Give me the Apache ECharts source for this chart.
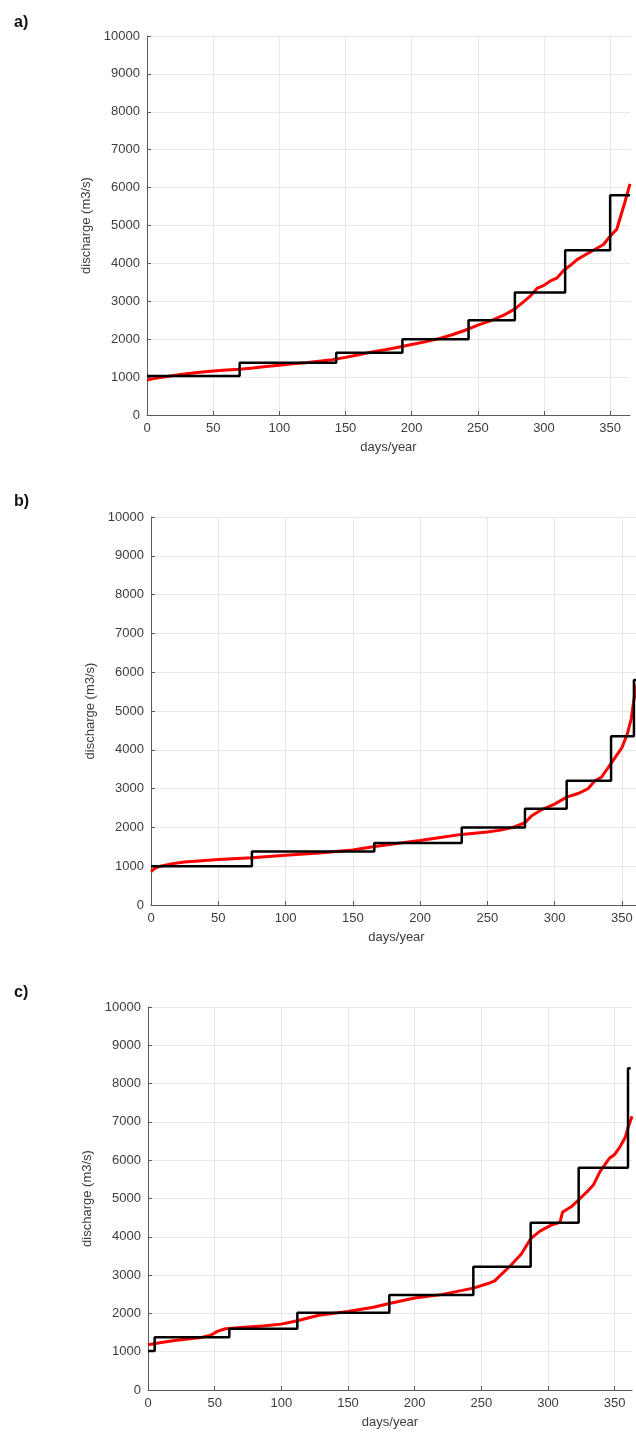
<!DOCTYPE html>
<html>
<head>
<meta charset="utf-8">
<script src="https://cdn.jsdelivr.net/npm/echarts@6/dist/echarts.min.js"></script>
<style>
  html, body { margin: 0; padding: 0; background: #fff; }
  #chart { width: 636px; height: 1436px; }
</style>
</head>
<body>
<div id="chart"></div>
<script>
// Flow duration curves (red) and their stepped approximations (black)
const panelLabels = ['a)', 'b)', 'c)'];
const xName = 'days/year';
const yName = 'discharge (m3/s)';

// Panel a
const curveA = [[0,920],[5,960],[10,990],[20,1040],[30,1090],[40,1130],[50,1160],[60,1190],[70,1210],[80,1240],[90,1280],[100,1310],[110,1350],[120,1380],[130,1420],[140,1460],[150,1520],[160,1590],[170,1660],[180,1720],[190,1790],[200,1860],[210,1930],[220,2010],[230,2110],[240,2230],[250,2370],[260,2490],[270,2640],[278,2800],[285,3000],[290,3150],[295,3350],[300,3420],[305,3540],[310,3620],[315,3820],[320,3950],[325,4100],[330,4200],[335,4300],[340,4400],[345,4500],[350,4720],[355,4900],[358,5250],[361,5600],[363,5850],[365,6100]];
const stepEdgesA = [0,70,143,193,243,278,316,350,365];
const stepLevelsA = [1030,1380,1640,2000,2500,3230,4350,5800];

// Panel b
const curveB = [[0,860],[3,950],[7,1000],[15,1060],[25,1110],[40,1150],[50,1170],[75,1220],[100,1280],[125,1340],[150,1420],[165,1500],[180,1570],[200,1660],[215,1740],[231,1820],[250,1880],[260,1930],[270,2010],[278,2120],[283,2300],[290,2450],[300,2600],[309,2780],[318,2880],[325,3000],[330,3200],[335,3300],[341,3600],[346,3850],[350,4050],[354,4400],[357,4800],[359,5300],[362,5800],[365,6200]];
const stepEdgesB = [0,75,166,231,278,309,342,359,365];
const stepLevelsB = [1000,1380,1600,2000,2480,3200,4350,5800];

// Panel c
const curveC = [[0,1180],[10,1240],[20,1290],[30,1330],[40,1370],[47,1430],[52,1530],[58,1600],[70,1630],[86,1670],[100,1720],[112,1810],[128,1950],[150,2050],[169,2160],[181,2260],[200,2400],[220,2490],[244,2660],[255,2780],[260,2850],[266,3050],[272,3250],[280,3550],[287,3950],[294,4150],[302,4300],[309,4380],[311,4650],[318,4800],[324,5000],[330,5200],[334,5350],[339,5700],[346,6050],[350,6150],[354,6350],[358,6600],[360,6850],[363,7150]];
const stepEdgesC = [0,5,61,112,181,244,287,323,360,362];
const stepLevelsC = [1020,1380,1600,2020,2480,3220,4370,5800,8400];

const xMaxes = [365, 365, 363];
const yMax = 10000;

function stepPoints(edges, levels) {
  const pts = levels.map((v, i) => [edges[i], v]);
  pts.push([edges[edges.length - 1], levels[levels.length - 1]]);
  return pts;
}

const curves = [curveA, curveB, curveC];
const steps = [stepPoints(stepEdgesA, stepLevelsA), stepPoints(stepEdgesB, stepLevelsB), stepPoints(stepEdgesC, stepLevelsC)];

// panel b runs past the right edge of the page
const grids = [
  { left: 147, width: 483, top: 36, height: 379 },
  { left: 151, width: 491, top: 517, height: 388 },
  { left: 148, width: 484, top: 1007, height: 383 }
];
const labelTops = [10, 489, 980];

const font = 'Liberation Sans, Arial, sans-serif';
const axisColor = '#5a5a5a';
const textColor = '#3c3c3c';
const gridColor = '#e8e8e8';

const option = {
  backgroundColor: '#fff',
  animation: false,
  title: panelLabels.map((t, i) => ({
    text: t, left: 9, top: labelTops[i],
    textStyle: { fontFamily: font, fontSize: 16, fontWeight: 'bold', color: '#111' }
  })),
  grid: grids.map(g => Object.assign({ containLabel: false, outerBoundsMode: 'none' }, g)),
  xAxis: grids.map((g, i) => ({
    gridIndex: i, type: 'value', min: 0, max: xMaxes[i], interval: 50,
    name: xName, nameLocation: 'middle', nameGap: 26,
    nameTextStyle: { fontFamily: font, fontSize: 13, color: textColor },
    axisLine: { show: true, lineStyle: { color: axisColor, width: 1 } },
    axisTick: { show: true, inside: true, length: 4, lineStyle: { color: axisColor } },
    axisLabel: { fontFamily: font, fontSize: 13, color: textColor, margin: 7, showMaxLabel: false },
    splitLine: { show: true, showMaxLine: false, lineStyle: { color: gridColor, width: 1 } }
  })),
  yAxis: grids.map((g, i) => ({
    gridIndex: i, type: 'value', min: 0, max: yMax, interval: 1000,
    name: yName, nameLocation: 'middle', nameGap: 50, nameRotate: 90,
    nameTextStyle: { fontFamily: font, fontSize: 13, color: textColor },
    axisLine: { show: true, lineStyle: { color: axisColor, width: 1 } },
    axisTick: { show: true, inside: true, length: 4, lineStyle: { color: axisColor } },
    axisLabel: { fontFamily: font, fontSize: 13, color: textColor, margin: 7,
      formatter: v => String(v) },
    splitLine: { show: true, lineStyle: { color: gridColor, width: 1 } }
  })),
  series: []
};

curves.forEach((c, i) => {
  option.series.push({
    type: 'line', xAxisIndex: i, yAxisIndex: i, data: c,
    showSymbol: false, symbol: 'none', smooth: false,
    lineStyle: { color: '#ff0000', width: 3 }, z: 2
  });
});
steps.forEach((s, i) => {
  option.series.push({
    type: 'line', xAxisIndex: i, yAxisIndex: i, data: s,
    step: 'end', showSymbol: false, symbol: 'none',
    lineStyle: { color: '#000', width: 2.5 }, z: 3
  });
});

const chart = echarts.init(document.getElementById('chart'), null, { renderer: 'canvas' });
chart.setOption(option);
</script>
</body>
</html>
